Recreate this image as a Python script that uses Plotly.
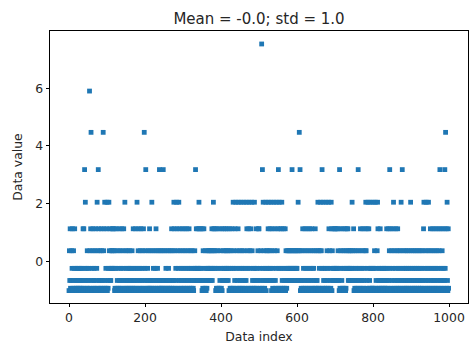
import plotly.graph_objects as go

LEVELS = [-1.01, -0.93, -0.66, -0.24, 0.37, 1.13, 2.05, 3.18, 4.47, 5.90, 7.53]

# Level code (index into LEVELS, 'A' = 10) for each data index 0..999, 50 per row
CODE_ROWS = [
    "0425102435" "1042351023" "1023102301" "2301230515" "2736012340",
    "1230941582" "3045123041" "5203641752" "0412054120" "8451620315",
    "6021364523" "2435435435" "0143051240" "3152041325" "0413520614",
    "2301423012" "4301234015" "2301253016" "2345012345" "0123405182",
    "3470120341" "2051420162" "4031204315" "2043120471" "2041201472",
    "0142031240" "1234012041" "5204126504" "1326504136" "2504132054",
    "1320514320" "5143205134" "2013420103" "2437253235" "2365232532",
    "0514250314" "2031243243" "2432435243" "6543540315" "0413051243",
    "0150234523" "4253423542" "3045130415" "3061432506" "1342056134",
    "2016342013" "6420132650" "4315604315" "0642130261" "3025130425",
    "5013240A17" "3624013260" "4324563245" "3260451326" "0452136045",
    "1736051305" "6213052135" "0421342342" "3423423742" "3423423423",
    "3426428470" "2140251340" "2513402513" "4025134025" "1340321450",
    "1242061403" "1460437106" "2310236104" "2316504231" "6504235235",
    "2352352345" "2071345021" "3450134501" "3453524324" "3243264325",
    "0412304123" "0741230541" "2305412305" "4641253605" "1236013013",
    "6013406123" "0465123015" "2301230123" "0123015230" "1524730514",
    "2035614203" "5142053142" "0314620731" "4203142031" "4203142036",
    "1420314203" "1420314203" "1420314203" "1425603142" "6031426031",
    "4520314520" "3145203145" "2031457203" "1542031527" "3805162051",
]

codes = "".join(CODE_ROWS)
assert len(codes) == 1000, len(codes)
data_index = list(range(len(codes)))
data_value = [LEVELS[int(c, 16)] for c in codes]

X_TICKS = [0, 200, 400, 600, 800, 1000]
Y_TICKS = [0, 2, 4, 6]
TITLE = "Mean = -0.0; std = 1.0"

FONT = "DejaVu Sans"
TXT = "#262626"
TICK_SIZE = 12.4
TITLE_SIZE = 15

fig = go.Figure(
    go.Scatter(
        x=data_index,
        y=data_value,
        mode="markers",
        marker=dict(symbol="square", size=4.8, color="#1f77b4", line=dict(width=0)),
        hoverinfo="skip",
    )
)

axis_common = dict(
    showgrid=False,
    zeroline=False,
    showline=True,
    mirror=True,
    linecolor="#000000",
    linewidth=0.9,
    ticks="outside",
    ticklen=3.5,
    tickwidth=0.9,
    tickcolor="#000000",
    tickfont=dict(family=FONT, size=TICK_SIZE, color=TXT),
)

fig.update_layout(
    width=475,
    height=354,
    margin=dict(l=50, r=7, t=31, b=51),
    paper_bgcolor="white",
    plot_bgcolor="white",
    showlegend=False,
    title=dict(
        text=TITLE,
        font=dict(family=FONT, size=TITLE_SIZE, color=TXT),
        x=(50 + 468) / 2 / 475,
        xanchor="center",
        y=1 - 19 / 354,
        yanchor="middle",
    ),
    xaxis=dict(
        range=[-50, 1050],
        tickvals=X_TICKS,
        ticktext=[str(v) for v in X_TICKS],
        title=dict(text="Data index", font=dict(family=FONT, size=TICK_SIZE, color=TXT), standoff=7),
        **axis_common,
    ),
    yaxis=dict(
        range=[-1.44, 7.98],
        tickvals=Y_TICKS,
        ticktext=[str(v) for v in Y_TICKS],
        title=dict(text="Data value", font=dict(family=FONT, size=TICK_SIZE, color=TXT), standoff=9),
        **axis_common,
    ),
)

fig.write_html("out.html")
